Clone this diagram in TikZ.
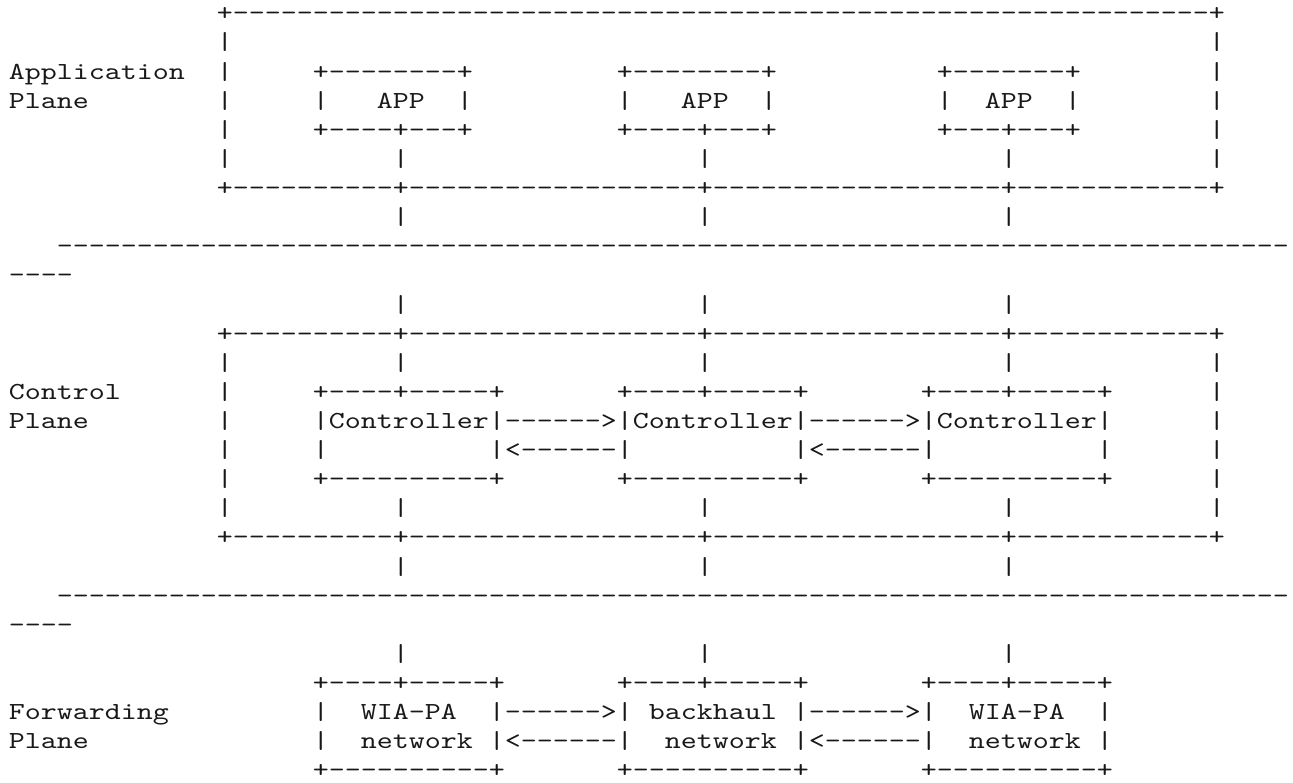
\documentclass[tikz,border=0pt]{standalone}
\usepackage{fontspec}
% Typewriter face for the character-cell drawing
\newfontfamily\asciifont[Extension=.otf, FakeStretch=1.2439, Ligatures=TeXOff]{lmmono10-regular}
\newcommand\asciistyle{\fontsize{24.5pt}{29.12pt}\asciifont}
\newlength\cw
\ExplSyntaxOn
\cs_new:Npn \dashrun #1 { \prg_replicate:nn {#1} {-} }
\ExplSyntaxOff
% blank character cells
\newcommand\blankrun[1]{\hspace*{#1\cw}}

% rows that repeat in every plane
\newcommand\rowVbars{\blankrun{13}|\blankrun{10}|\blankrun{18}|\blankrun{18}|\blankrun{12}|}
\newcommand\rowTees{\blankrun{13}+\dashrun{10}+\dashrun{18}+\dashrun{18}+\dashrun{12}+}
\newcommand\rowLinks{\blankrun{24}|\blankrun{18}|\blankrun{18}|}
\newcommand\rowRule{\blankrun{3}\dashrun{77}}
\newcommand\rowRuleTail{\dashrun{4}}

\begin{document}
\settowidth{\cw}{\asciistyle -}%
\begin{tikzpicture}[x=1pt,y=-1pt,
  asciirow/.style={anchor=base west, inner sep=0pt, outer sep=0pt, font=\asciistyle, text=black!90}]
\useasboundingbox (0,0) rectangle (1293,782);
\def\xo{9}
\def\yrow#1{20.8+29.12*#1}

% Application plane
\node[asciirow] (r00) at (\xo,{\yrow{0}}) {\blankrun{13}+\dashrun{61}+};
\node[asciirow] (r01) at (\xo,{\yrow{1}}) {\blankrun{13}|\blankrun{61}|};
\node[asciirow] (r02) at (\xo,{\yrow{2}}) {Application\blankrun{2}|\blankrun{5}+\dashrun{8}+\blankrun{9}+\dashrun{8}+\blankrun{10}+\dashrun{7}+\blankrun{8}|};
\node[asciirow] (r03) at (\xo,{\yrow{3}}) {Plane\blankrun{8}|\blankrun{5}|\blankrun{3}APP\blankrun{2}|\blankrun{9}|\blankrun{3}APP\blankrun{2}|\blankrun{10}|\blankrun{2}APP\blankrun{2}|\blankrun{8}|};
\node[asciirow] (r04) at (\xo,{\yrow{4}}) {\blankrun{13}|\blankrun{5}+\dashrun{4}+\dashrun{3}+\blankrun{9}+\dashrun{4}+\dashrun{3}+\blankrun{10}+\dashrun{3}+\dashrun{3}+\blankrun{8}|};
\node[asciirow] (r05) at (\xo,{\yrow{5}}) {\rowVbars};
\node[asciirow] (r06) at (\xo,{\yrow{6}}) {\rowTees};
\node[asciirow] (r07) at (\xo,{\yrow{7}}) {\rowLinks};
\node[asciirow] (r08) at (\xo,{\yrow{8}}) {\rowRule};
\node[asciirow] (r09) at (\xo,{\yrow{9}}) {\rowRuleTail};
\node[asciirow] (r10) at (\xo,{\yrow{10}}) {\rowLinks};

% Control plane
\node[asciirow] (r11) at (\xo,{\yrow{11}}) {\rowTees};
\node[asciirow] (r12) at (\xo,{\yrow{12}}) {\rowVbars};
\node[asciirow] (r13) at (\xo,{\yrow{13}}) {Control\blankrun{6}|\blankrun{5}+\dashrun{4}+\dashrun{5}+\blankrun{7}+\dashrun{4}+\dashrun{5}+\blankrun{7}+\dashrun{4}+\dashrun{5}+\blankrun{6}|};
\node[asciirow] (r14) at (\xo,{\yrow{14}}) {Plane\blankrun{8}|\blankrun{5}|Controller|\dashrun{6}>|Controller|\dashrun{6}>|Controller|\blankrun{6}|};
\node[asciirow] (r15) at (\xo,{\yrow{15}}) {\blankrun{13}|\blankrun{5}|\blankrun{10}|<\dashrun{6}|\blankrun{10}|<\dashrun{6}|\blankrun{10}|\blankrun{6}|};
\node[asciirow] (r16) at (\xo,{\yrow{16}}) {\blankrun{13}|\blankrun{5}+\dashrun{10}+\blankrun{7}+\dashrun{10}+\blankrun{7}+\dashrun{10}+\blankrun{6}|};
\node[asciirow] (r17) at (\xo,{\yrow{17}}) {\rowVbars};
\node[asciirow] (r18) at (\xo,{\yrow{18}}) {\rowTees};
\node[asciirow] (r19) at (\xo,{\yrow{19}}) {\rowLinks};
\node[asciirow] (r20) at (\xo,{\yrow{20}}) {\rowRule};
\node[asciirow] (r21) at (\xo,{\yrow{21}}) {\rowRuleTail};
\node[asciirow] (r22) at (\xo,{\yrow{22}}) {\rowLinks};

% Forwarding plane
\node[asciirow] (r23) at (\xo,{\yrow{23}}) {\blankrun{19}+\dashrun{4}+\dashrun{5}+\blankrun{7}+\dashrun{4}+\dashrun{5}+\blankrun{7}+\dashrun{4}+\dashrun{5}+};
\node[asciirow] (r24) at (\xo,{\yrow{24}}) {Forwarding\blankrun{9}|\blankrun{2}WIA-PA\blankrun{2}|\dashrun{6}>|\blankrun{1}backhaul\blankrun{1}|\dashrun{6}>|\blankrun{2}WIA-PA\blankrun{2}|};
\node[asciirow] (r25) at (\xo,{\yrow{25}}) {Plane\blankrun{14}|\blankrun{2}network\blankrun{1}|<\dashrun{6}|\blankrun{2}network\blankrun{1}|<\dashrun{6}|\blankrun{2}network\blankrun{1}|};
\node[asciirow] (r26) at (\xo,{\yrow{26}}) {\blankrun{19}+\dashrun{10}+\blankrun{7}+\dashrun{10}+\blankrun{7}+\dashrun{10}+};
\end{tikzpicture}
\end{document}
